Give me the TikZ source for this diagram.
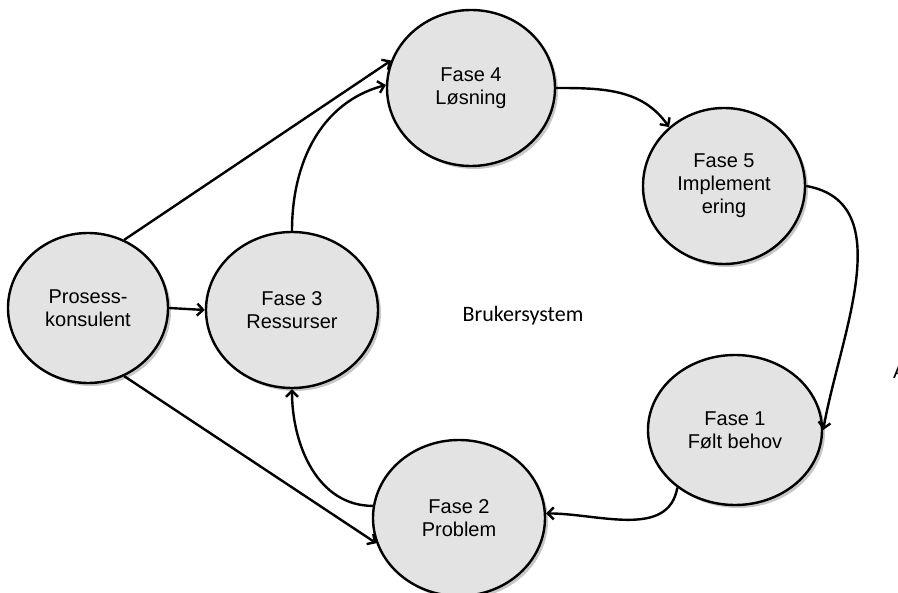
\documentclass[tikz,border=0pt]{standalone}
\usepackage{fontspec}
\setmainfont{Liberation Sans}
\newfontfamily\brukerfont{Carlito}
\usetikzlibrary{shapes.geometric,shadows,arrows.meta}

\tikzset{
  phase/.style={ellipse,draw,line width=2.4pt,fill=gray!22!white,inner sep=0pt,
    align=center,font=\fontsize{20}{23}\selectfont,
    drop shadow={shadow xshift=3pt,shadow yshift=-3pt,fill=gray!80,opacity=0.55}},
  link/.style={line width=2.4pt,-{Straight Barb[length=6pt,width=12pt]}}
}

\begin{document}
\begin{tikzpicture}[x=1pt,y=-1pt]

\useasboundingbox (0,0) rectangle (898,593);

% Phases
\node[phase,minimum width=160pt,minimum height=150pt] (pk) at (88,308) {Prosess-\\konsulent};
\node[phase,minimum width=172pt,minimum height=156pt] (f3) at (292,310) {Fase 3\\Ressurser};
\node[phase,minimum width=168pt,minimum height=156pt] (f4) at (471,88) {Fase 4\\Løsning};
\node[phase,minimum width=162pt,minimum height=156pt] (f5) at (724,186) {Fase 5\\Implement\\ering};
\node[phase,minimum width=174pt,minimum height=150pt] (f1) at (735,430) {Fase 1\\Følt behov};
\node[phase,minimum width=172pt,minimum height=156pt] (f2) at (459,518) {Fase 2\\Problem};

% Labels
\node[font=\brukerfont\fontsize{22}{26}\selectfont] (bs) at (523,316) {Brukersystem};
\node[anchor=west,inner sep=0pt,font=\fontsize{20}{23}\selectfont] (cut) at (893,372) {A};

% Consultant links
\draw[link] (pk.62) -- (f4.161);
\draw[link] (pk.east) -- (f3.west);
\draw[link] (pk.-62) -- (f2.197);

% Cycle
\draw[link] (f3.north) to[out=90,in=195] (f4.178);
\draw[link] (f4.east) to[out=0,in=125] (f5.133);
\draw[link] (f5.east) to[out=-10,in=80] (f1.east);
\draw[link] (f1.225) to[out=-100,in=0] (f2.3);
\draw[link] (f2.172) to[out=180,in=-90] (f3.south);

\end{tikzpicture}
\end{document}
